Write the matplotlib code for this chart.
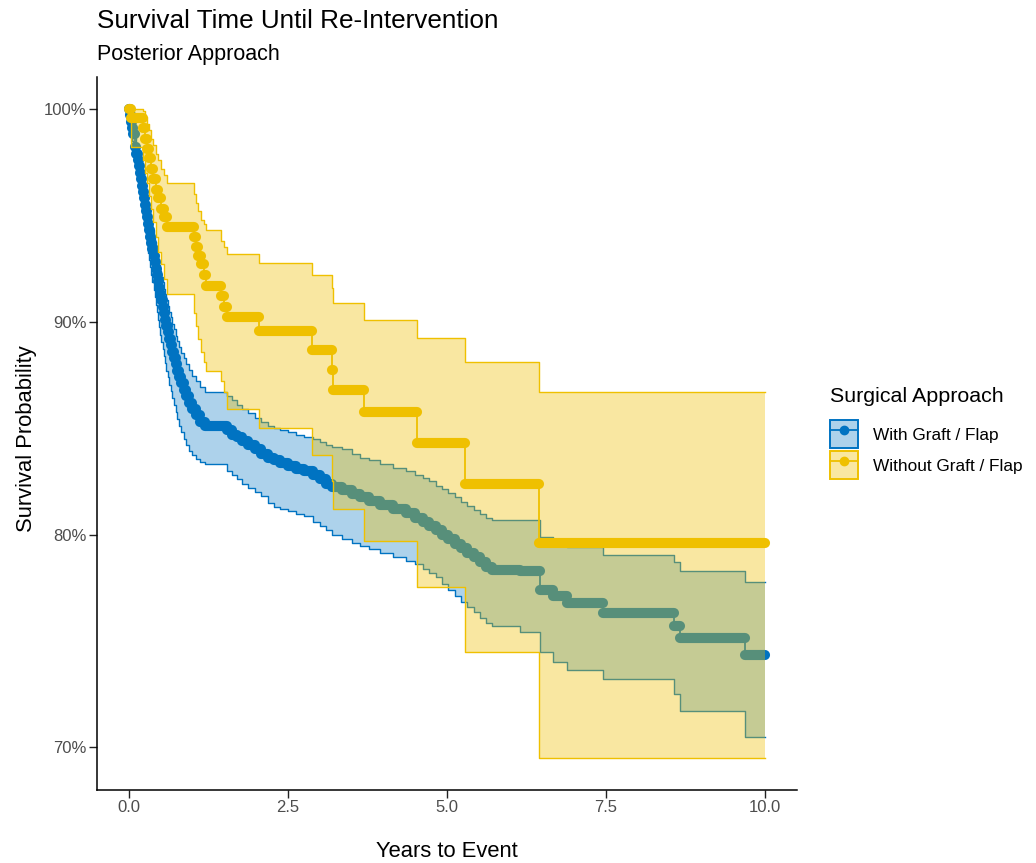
import matplotlib.pyplot as plt
import numpy as np
from matplotlib.patches import Patch
from matplotlib.lines import Line2D
from matplotlib.colors import to_rgba
from matplotlib.ticker import FuncFormatter

plt.rcParams['font.family'] = ['Liberation Sans', 'DejaVu Sans']

# With Graft / Flap : time (years), survival %, upper CI %, lower CI %
with_time = [0.00, 0.017, 0.034, 0.05, 0.07, 0.09, 0.105, 0.12, 0.14, 0.155,
             0.17, 0.19, 0.205, 0.22, 0.24, 0.255, 0.27, 0.29, 0.305, 0.32,
             0.34, 0.355, 0.37, 0.39, 0.405, 0.42, 0.44, 0.455, 0.47, 0.49,
             0.51, 0.53, 0.55, 0.57, 0.59, 0.61, 0.635, 0.66, 0.685, 0.71,
             0.74, 0.765, 0.79, 0.825, 0.86, 0.90, 0.945, 0.99, 1.05, 1.12,
             1.20, 1.55, 1.62, 1.70, 1.78, 1.88, 1.98, 2.08, 2.18, 2.28, 2.38,
             2.50, 2.62, 2.75, 2.90, 3.00, 3.10, 3.20, 3.35, 3.50, 3.63, 3.78,
             3.95, 4.15, 4.35, 4.50, 4.62, 4.72, 4.82, 4.92, 5.02, 5.12, 5.22,
             5.31, 5.42, 5.52, 5.62, 5.70, 6.15, 6.46, 6.66, 6.88, 7.45, 8.56,
             8.66, 9.68, 10.0]
with_surv = [100.0, 99.7, 99.4, 99.1, 98.8, 98.5, 98.2, 97.9, 97.6, 97.3,
             97.0, 96.7, 96.4, 96.1, 95.8, 95.5, 95.2, 94.9, 94.6, 94.3,
             94.0, 93.7, 93.4, 93.1, 92.8, 92.5, 92.2, 91.9, 91.6, 91.3,
             91.0, 90.7, 90.4, 90.1, 89.8, 89.5, 89.2, 88.9, 88.6, 88.3,
             88.0, 87.7, 87.4, 87.1, 86.8, 86.5, 86.2, 85.9, 85.6, 85.3,
             85.1, 84.9, 84.7, 84.6, 84.4, 84.2, 84.0, 83.8, 83.6, 83.5, 83.35,
             83.2, 83.1, 83.0, 82.8, 82.6, 82.4, 82.25, 82.1, 81.9, 81.75, 81.6,
             81.4, 81.2, 81.0, 80.8, 80.6, 80.4, 80.2, 80.0, 79.8, 79.55, 79.35,
             79.15, 78.95, 78.7, 78.5, 78.35, 78.3, 77.4, 77.1, 76.8, 76.3, 75.7,
             75.15, 74.35, 74.35]
with_upper = [100.0, 100.0, 99.75, 99.5, 99.2, 98.95, 98.7, 98.4, 98.15, 97.85,
              97.6, 97.3, 97.05, 96.8, 96.5, 96.2, 95.95, 95.65, 95.4, 95.1,
              94.85, 94.6, 94.3, 94.05, 93.75, 93.5, 93.2, 92.95, 92.65, 92.4,
              92.1, 91.85, 91.55, 91.3, 91.0, 90.75, 90.45, 90.2, 89.9, 89.65,
              89.35, 89.1, 88.8, 88.55, 88.3, 88.0, 87.75, 87.45, 87.2, 86.95,
              86.7, 86.5, 86.3, 86.1, 85.9, 85.7, 85.5, 85.3, 85.1, 85.0, 84.9,
              84.8, 84.7, 84.6, 84.5, 84.35, 84.2, 84.1, 84.0, 83.8, 83.6, 83.5,
              83.3, 83.15, 83.0, 82.8, 82.65, 82.5, 82.3, 82.15, 81.95, 81.75, 81.55,
              81.35, 81.15, 80.95, 80.8, 80.7, 80.7, 79.9, 79.77, 79.4, 79.06, 78.7,
              78.3, 77.75, 77.75]
with_lower = [100.0, 99.2, 98.85, 98.5, 98.15, 97.8, 97.45, 97.1, 96.75, 96.4,
              96.05, 95.7, 95.35, 95.0, 94.65, 94.3, 93.95, 93.6, 93.25, 92.9,
              92.55, 92.2, 91.85, 91.5, 91.15, 90.8, 90.45, 90.1, 89.75, 89.4,
              89.05, 88.7, 88.4, 88.05, 87.7, 87.4, 87.05, 86.75, 86.4, 86.1,
              85.75, 85.45, 85.1, 84.8, 84.5, 84.2, 83.95, 83.75, 83.55, 83.4,
              83.3, 83.0, 82.8, 82.6, 82.4, 82.2, 82.0, 81.8, 81.5, 81.3, 81.2,
              81.1, 80.95, 80.85, 80.6, 80.4, 80.2, 80.0, 79.8, 79.6, 79.45, 79.3,
              79.15, 78.95, 78.75, 78.6, 78.4, 78.2, 78.0, 77.7, 77.4, 77.1, 76.85,
              76.6, 76.35, 76.1, 75.85, 75.7, 75.4, 74.46, 74.0, 73.66, 73.2, 72.5,
              71.7, 70.5, 70.5]

# Without Graft / Flap
without_time = [0.00, 0.03, 0.22, 0.26, 0.29, 0.32, 0.35, 0.38, 0.42, 0.46, 0.50,
                0.55, 0.60, 1.03, 1.06, 1.09, 1.13, 1.18, 1.22, 1.45, 1.50, 1.55,
                2.04, 2.88, 3.19, 3.21, 3.69, 4.53, 5.29, 6.45, 10.0]
without_surv = [100.0, 99.55, 99.1, 98.6, 98.1, 97.7, 97.2, 96.7, 96.2, 95.8, 95.3,
                94.9, 94.46, 94.0, 93.5, 93.1, 92.7, 92.2, 91.7, 91.2, 90.7, 90.2,
                89.55, 88.65, 87.75, 86.8, 85.75, 84.3, 82.4, 79.6, 79.6]
without_upper = [100.0, 100.0, 99.9, 99.6, 99.3, 99.0, 98.6, 98.3, 97.9, 97.6, 97.2,
                 96.9, 96.5, 96.0, 95.6, 95.2, 94.8, 94.6, 94.3, 93.8, 93.5, 93.2,
                 92.75, 92.2, 91.6, 90.9, 90.1, 89.25, 88.1, 86.7, 86.7]
without_lower = [100.0, 98.2, 97.6, 97.0, 96.5, 95.9, 95.3, 94.7, 94.0, 93.3, 92.7,
                 92.0, 91.3, 90.4, 89.8, 89.2, 88.6, 88.1, 87.7, 87.2, 86.7, 85.9,
                 85.0, 83.75, 82.5, 81.2, 79.7, 77.55, 74.5, 69.5, 69.5]

group_labels = ['With Graft / Flap', 'Without Graft / Flap']
colors = ['#0073C2', '#EFC000']
fill_alpha = [0.32, 0.37]
x_ticks = [0, 2.5, 5, 7.5, 10]
y_ticks = [70, 80, 90, 100]

fig = plt.figure(figsize=(10.36, 8.63), dpi=100)
ax = fig.add_axes([0.0936, 0.0846, 0.6757, 0.8262])


def draw_group(t, s, up, lo, color, alpha, z):
    t = np.array(t)
    s = np.array(s)
    ax.fill_between(t, lo, up, step='post', facecolor=color, alpha=alpha,
                    lw=0, zorder=z)
    ax.step(t, up, where='post', color=color, lw=1.0, zorder=z + 0.1)
    ax.step(t, lo, where='post', color=color, lw=1.0, zorder=z + 0.1)
    ax.step(t, s, where='post', color=color, lw=1.3, zorder=z + 0.2)
    # points: one blob per time step, spread to the next step
    ax.hlines(s[:-1], t[:-1], t[1:], colors=color, lw=7.3,
              capstyle='round', zorder=z + 0.3)


draw_group(with_time, with_surv, with_upper, with_lower, colors[0], fill_alpha[0], 1)
draw_group(without_time, without_surv, without_upper, without_lower, colors[1],
           fill_alpha[1], 2)

ax.set_xlim(-0.5, 10.5)
ax.set_ylim(68.0, 101.5)
ax.set_xticks(x_ticks)
ax.set_xticklabels(['0.0', '2.5', '5.0', '7.5', '10.0'])
ax.set_yticks(y_ticks)
ax.yaxis.set_major_formatter(FuncFormatter(lambda v, p: f'{v:.0f}%'))
for side in ['top', 'right']:
    ax.spines[side].set_visible(False)
for side in ['left', 'bottom']:
    ax.spines[side].set_linewidth(1.1)
ax.tick_params(length=5.5, width=1.0, color='#222222', labelcolor='#4D4D4D',
               labelsize=12, pad=2)

fig.text(447 / 1036, 1 - 851 / 863, 'Years to Event', fontsize=15.8,
         ha='center', va='center')
fig.text(27 / 1036, 1 - 439 / 863, 'Survival Probability', fontsize=15.8,
         ha='center', va='center', rotation=90)

fig.text(0.0936, 0.976, 'Survival Time Until Re-Intervention', fontsize=18.8,
         ha='left', va='center')
fig.text(0.0936, 0.937, 'Posterior Approach', fontsize=15.5, ha='left', va='center')

fig.text(830 / 1036, 1 - 396 / 863, 'Surgical Approach', fontsize=15.4,
         ha='left', va='center')
handles = []
for c, a in zip(colors, fill_alpha):
    box = Patch(facecolor=to_rgba(c, a), edgecolor=c, linewidth=1.4)
    ln = Line2D([], [], color=c, lw=1.3, marker='o', markersize=6)
    handles.append((box, ln))
leg = fig.legend(handles, group_labels, loc='upper left',
                 bbox_to_anchor=(0.793, 0.523), frameon=False,
                 fontsize=12.4, handlelength=1.63, handleheight=2.13,
                 handletextpad=0.85, labelspacing=0.17, borderpad=0)

fig.savefig('out.png', dpi=100)
